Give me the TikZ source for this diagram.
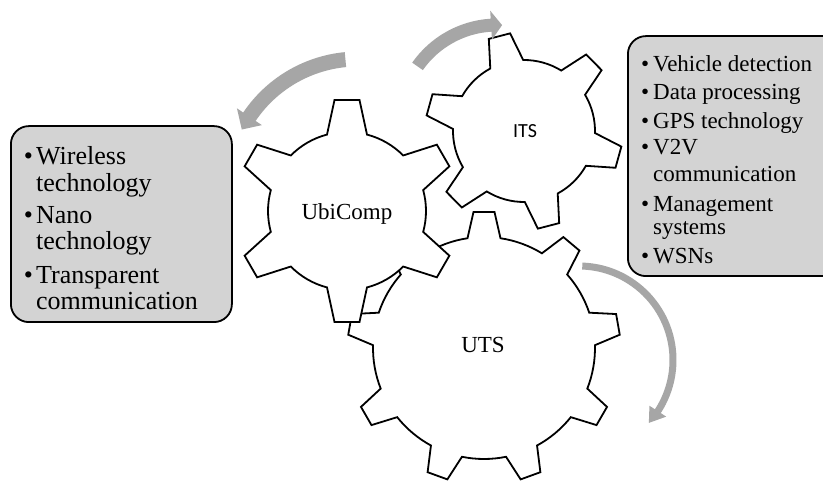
\documentclass[tikz,border=0pt]{standalone}
\usepackage{fontspec}
\setmainfont{Liberation Serif}
\newfontfamily\itsfont{Carlito}
\definecolor{arrowgray}{RGB}{166,166,166}
\definecolor{boxgray}{RGB}{211,211,211}

\tikzset{
  gearline/.style={draw=black, line width=1.8pt, fill=white, line join=miter},
  listbox/.style={draw=black, line width=1.8pt, fill=boxgray, rounded corners=18pt,
                  anchor=south west, inner sep=0pt},
  lefttext/.style={anchor=base west, inner sep=0pt, font=\fontsize{26}{27}\selectfont},
  righttext/.style={anchor=base west, inner sep=0pt, font=\fontsize{23}{24}\selectfont},
  gearlabel/.style={anchor=base, inner sep=0pt, font=\fontsize{23}{24}\selectfont},
}

% bullet in a box of fixed width, so that wrapped lines line up with the text
\newcommand{\bul}[1]{\makebox[#1][l]{\textbullet}}

% gear outline: centre x, centre y, teeth, first tooth angle,
% tip radius, root radius, tip half-width, root half-width
\newcommand{\drawgear}[8]{%
  \pgfmathsetmacro\gP{360/#3}%
  \pgfmathsetmacro\gAt{atan(#7/#5)}%
  \pgfmathsetmacro\gRo{veclen(#5,#7)}%
  \pgfmathsetmacro\gAr{asin(#8/#6)}%
  \pgfmathsetmacro\gDel{\gP-2*\gAr}%
  \begin{scope}[shift={(#1,#2)}]
    \filldraw[gearline] ({#4-\gAr}:#6pt)
      \foreach \k in {1,...,#3}{
        -- ({#4+(\k-1)*\gP-\gAt}:\gRo pt)
        -- ({#4+(\k-1)*\gP+\gAt}:\gRo pt)
        -- ({#4+(\k-1)*\gP+\gAr}:#6pt)
        arc[start angle={#4+(\k-1)*\gP+\gAr}, delta angle=\gDel, radius=#6pt]
      } -- cycle;
  \end{scope}}

% curved band arrow: centre x, centre y, radius, band width,
% start angle, head base angle, tip angle, head half-width
\newcommand{\circarrow}[8]{%
  \pgfmathsetmacro\aO{#3+#4/2}%
  \pgfmathsetmacro\aI{#3-#4/2}%
  \pgfmathsetmacro\hO{#3+#8}%
  \pgfmathsetmacro\hI{#3-#8}%
  \begin{scope}[shift={(#1,#2)}]
    \fill[arrowgray] (#5:\aO pt) arc[start angle=#5, end angle=#6, radius=\aO pt]
      -- (#6:\hO pt) -- (#7:#3pt) -- (#6:\hI pt) -- (#6:\aI pt)
      arc[start angle=#6, end angle=#5, radius=\aI pt] -- cycle;
  \end{scope}}

\begin{document}
\begin{tikzpicture}[x=1pt, y=1pt]
\useasboundingbox (0,0) rectangle (823,480);
\fill[white] (0,0) rectangle (823,480);

% gears, back to front
\drawgear{484}{132}{9}{10}{136}{111}{10.5}{16.5}
\drawgear{524}{349}{6}{-15.5}{98}{71}{11}{17}
\drawgear{347}{269}{6}{30}{111}{79}{12.5}{20}

\node[gearlabel] (uts) at (483,127) {UTS};
\node[gearlabel, font=\itsfont\fontsize{20}{22}\selectfont] (its) at (525,342) {ITS};
\node[gearlabel] (ubi) at (347,260) {UbiComp};

% rotation arrows
\circarrow{358}{290}{131}{15}{95.5}{146}{152.5}{15}
\circarrow{497}{358}{97}{13}{145}{93.5}{87}{14.5}
\circarrow{579}{120}{94}{7}{88}{-33}{-42}{10}

% left list
\node[listbox, minimum width=221pt, minimum height=196pt] (leftbox) at (10,157) {};
\node[lefttext] (l1) at (23.7,315)   {\bul{12.3pt}Wireless};
\node[lefttext] (l2) at (36,288.3)   {technology};
\node[lefttext] (l3) at (23.7,256.7) {\bul{12.3pt}Nano};
\node[lefttext] (l4) at (36,230)     {technology};
\node[lefttext] (l5) at (23.7,196.7) {\bul{12.3pt}Transparent};
\node[lefttext] (l6) at (36,170)     {communication};

% right list
\node[listbox, minimum width=220pt, minimum height=240pt] (rightbox) at (627,203) {};
\node[righttext] (r1) at (641,408.3) {\bul{12pt}Vehicle detection};
\node[righttext] (r2) at (641,380)   {\bul{12pt}Data processing};
\node[righttext] (r3) at (641,351.7) {\bul{12pt}GPS technology};
\node[righttext] (r4) at (641,325)   {\bul{12pt}V2V};
\node[righttext] (r5) at (653,298.3) {communication};
\node[righttext] (r6) at (641,268.3) {\bul{12pt}Management};
\node[righttext] (r7) at (653,245)   {systems};
\node[righttext] (r8) at (641,216.7) {\bul{12pt}WSNs};
\end{tikzpicture}
\end{document}
